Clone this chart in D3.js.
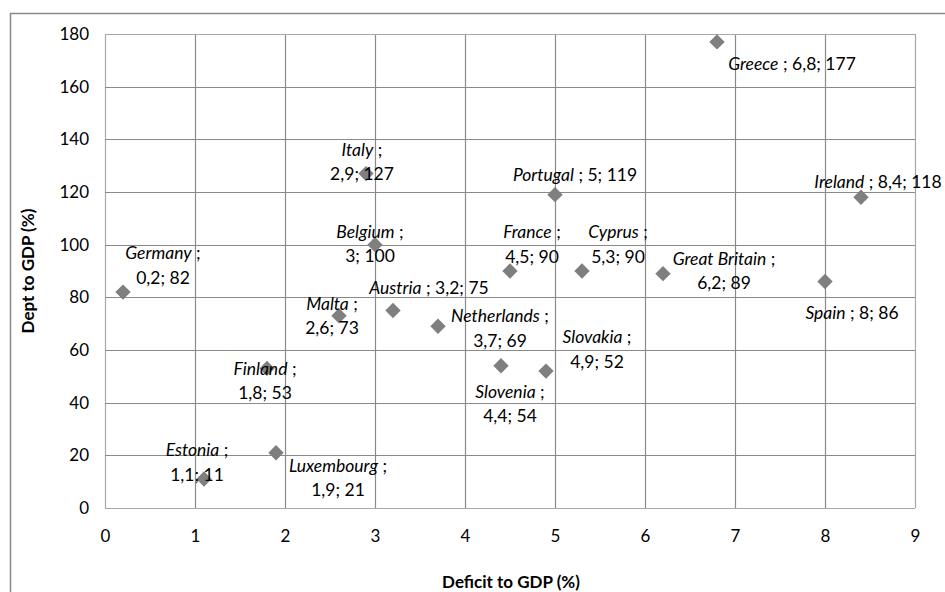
<!DOCTYPE html>
<html><head><meta charset="utf-8">
<script src="https://cdn.jsdelivr.net/npm/d3@7"></script>
<style>
html,body{margin:0;padding:0;background:#fff;}
text{font-family:Lato,"Liberation Sans",sans-serif;fill:#000;}
</style></head>
<body>
<svg id="c" width="945" height="592"></svg>
<script>
// ---- data ----
const countries = ["Greece","Italy","Portugal","Ireland","Germany","Finland","Malta","Belgium","Austria","Netherlands","France","Cyprus","Great Britain","Spain","Slovakia","Slovenia","Estonia","Luxembourg"];
const deficit   = [6.8, 2.9, 5, 8.4, 0.2, 1.8, 2.6, 3, 3.2, 3.7, 4.5, 5.3, 6.2, 8, 4.9, 4.4, 1.1, 1.9];
const debt      = [177, 127, 119, 118, 82, 53, 73, 100, 75, 69, 90, 90, 89, 86, 52, 54, 11, 21];
const xTicks = [0,1,2,3,4,5,6,7,8,9];
const yTicks = [0,20,40,60,80,100,120,140,160,180];
const xTitle = "Deficit to GDP (%)";
const yTitle = "Dept to GDP (%)";

// ---- label layout (offsets from marker, in px; two = label on two lines) ----
const labelLayout = [
  {dx:75, dy:21.5, two:false},
  {dx:-4, dy:-24, two:true},
  {dx:20, dy:-20, two:false},
  {dx:17, dy:-15, two:false},
  {dx:40, dy:-39, two:true},
  {dx:-2, dy:0, two:true},
  {dx:-7, dy:-12, two:true},
  {dx:-5, dy:-13, two:true},
  {dx:36, dy:-23, two:false},
  {dx:62, dy:-10, two:true},
  {dx:22, dy:-39, two:true},
  {dx:36, dy:-39, two:true},
  {dx:61, dy:-15, two:true},
  {dx:27, dy:31, two:false},
  {dx:51, dy:-34, two:true},
  {dx:9, dy:26, two:true},
  {dx:-7, dy:-29, two:true},
  {dx:62, dy:13, two:true}
];

const svg = d3.select("#c");
const L = 105, R = 915, T = 34, B = 508;
const x = d3.scaleLinear().domain([0,9]).range([L,R]);
const y = d3.scaleLinear().domain([0,180]).range([B,T]);

// outer chart border (cropped)
svg.append("rect").attr("x",10.5).attr("y",13.5).attr("width",1200).attr("height",1200)
  .attr("fill","none").attr("stroke","#898989").attr("stroke-width",1.5);

// gridlines
const g = svg.append("g");
g.selectAll(".vx").data(xTicks).join("line")
  .attr("x1",d=>Math.round(x(d))+0.5).attr("x2",d=>Math.round(x(d))+0.5)
  .attr("y1",T).attr("y2",B)
  .attr("stroke",(d,i)=> (i===0||i===xTicks.length-1)?"#a8a8a8":"#8a8a8a").attr("stroke-width",1.2);
g.selectAll(".hy").data(yTicks).join("line")
  .attr("y1",d=>Math.round(y(d))+0.5).attr("y2",d=>Math.round(y(d))+0.5)
  .attr("x1",L).attr("x2",R)
  .attr("stroke",(d,i)=> (i===0||i===yTicks.length-1)?"#a8a8a8":"#8a8a8a").attr("stroke-width",1.2);

// axes (tick labels via d3 axes)
const xAxis = svg.append("g").attr("transform",`translate(0,${B})`)
  .call(d3.axisBottom(x).tickValues(xTicks).tickSize(0).tickPadding(22).tickFormat(d3.format("d")));
const yAxis = svg.append("g").attr("transform",`translate(${L},0)`)
  .call(d3.axisLeft(y).tickValues(yTicks).tickSize(0).tickPadding(16).tickFormat(d3.format("d")));
[xAxis,yAxis].forEach(a=>{
  a.select(".domain").remove();
  a.selectAll("text").attr("font-size",17).attr("font-family","Lato, sans-serif").attr("fill","#000");
});

// axis titles
svg.append("text").attr("x",(L+R)/2+1).attr("y",582).attr("dy","0.35em")
  .attr("text-anchor","middle").attr("font-weight","bold").attr("font-size",17).text(xTitle);
svg.append("text").attr("transform",`translate(28,${(T+B)/2}) rotate(-90)`).attr("dy","0.35em")
  .attr("text-anchor","middle").attr("font-weight","bold").attr("font-size",17).text(yTitle);

// markers
const pts = countries.map((c,i)=>({c, x:deficit[i], y:debt[i], lay:labelLayout[i]}));
svg.append("g").selectAll("path").data(pts).join("path")
  .attr("d", d3.symbol(d3.symbolSquare, 118)())
  .attr("transform", d=>`translate(${x(d.x)},${y(d.y)}) rotate(45)`)
  .attr("fill","#7f7f7f");

// labels
const fmt = v => String(v).replace(".", ",");
const lg = svg.append("g");
const FS = 17.5;
pts.forEach(d=>{
  const cx = x(d.x) + d.lay.dx, cy = y(d.y) + d.lay.dy;
  if (d.lay.two) {
    const t1 = lg.append("text").attr("x",cx).attr("y",cy).attr("dy","0.35em")
      .attr("text-anchor","middle").attr("font-size",FS);
    t1.append("tspan").attr("font-style","italic").text(d.c);
    t1.append("tspan").text(" ;");
    lg.append("text").attr("x",cx).attr("y",cy+24.5).attr("dy","0.35em")
      .attr("text-anchor","middle").attr("font-size",FS)
      .text(`${fmt(d.x)}; ${fmt(d.y)}`);
  } else {
    const t1 = lg.append("text").attr("x",cx).attr("y",cy).attr("dy","0.35em")
      .attr("text-anchor","middle").attr("font-size",FS);
    t1.append("tspan").attr("font-style","italic").text(d.c);
    t1.append("tspan").text(` ; ${fmt(d.x)}; ${fmt(d.y)}`);
  }
});
</script>
</body></html>
